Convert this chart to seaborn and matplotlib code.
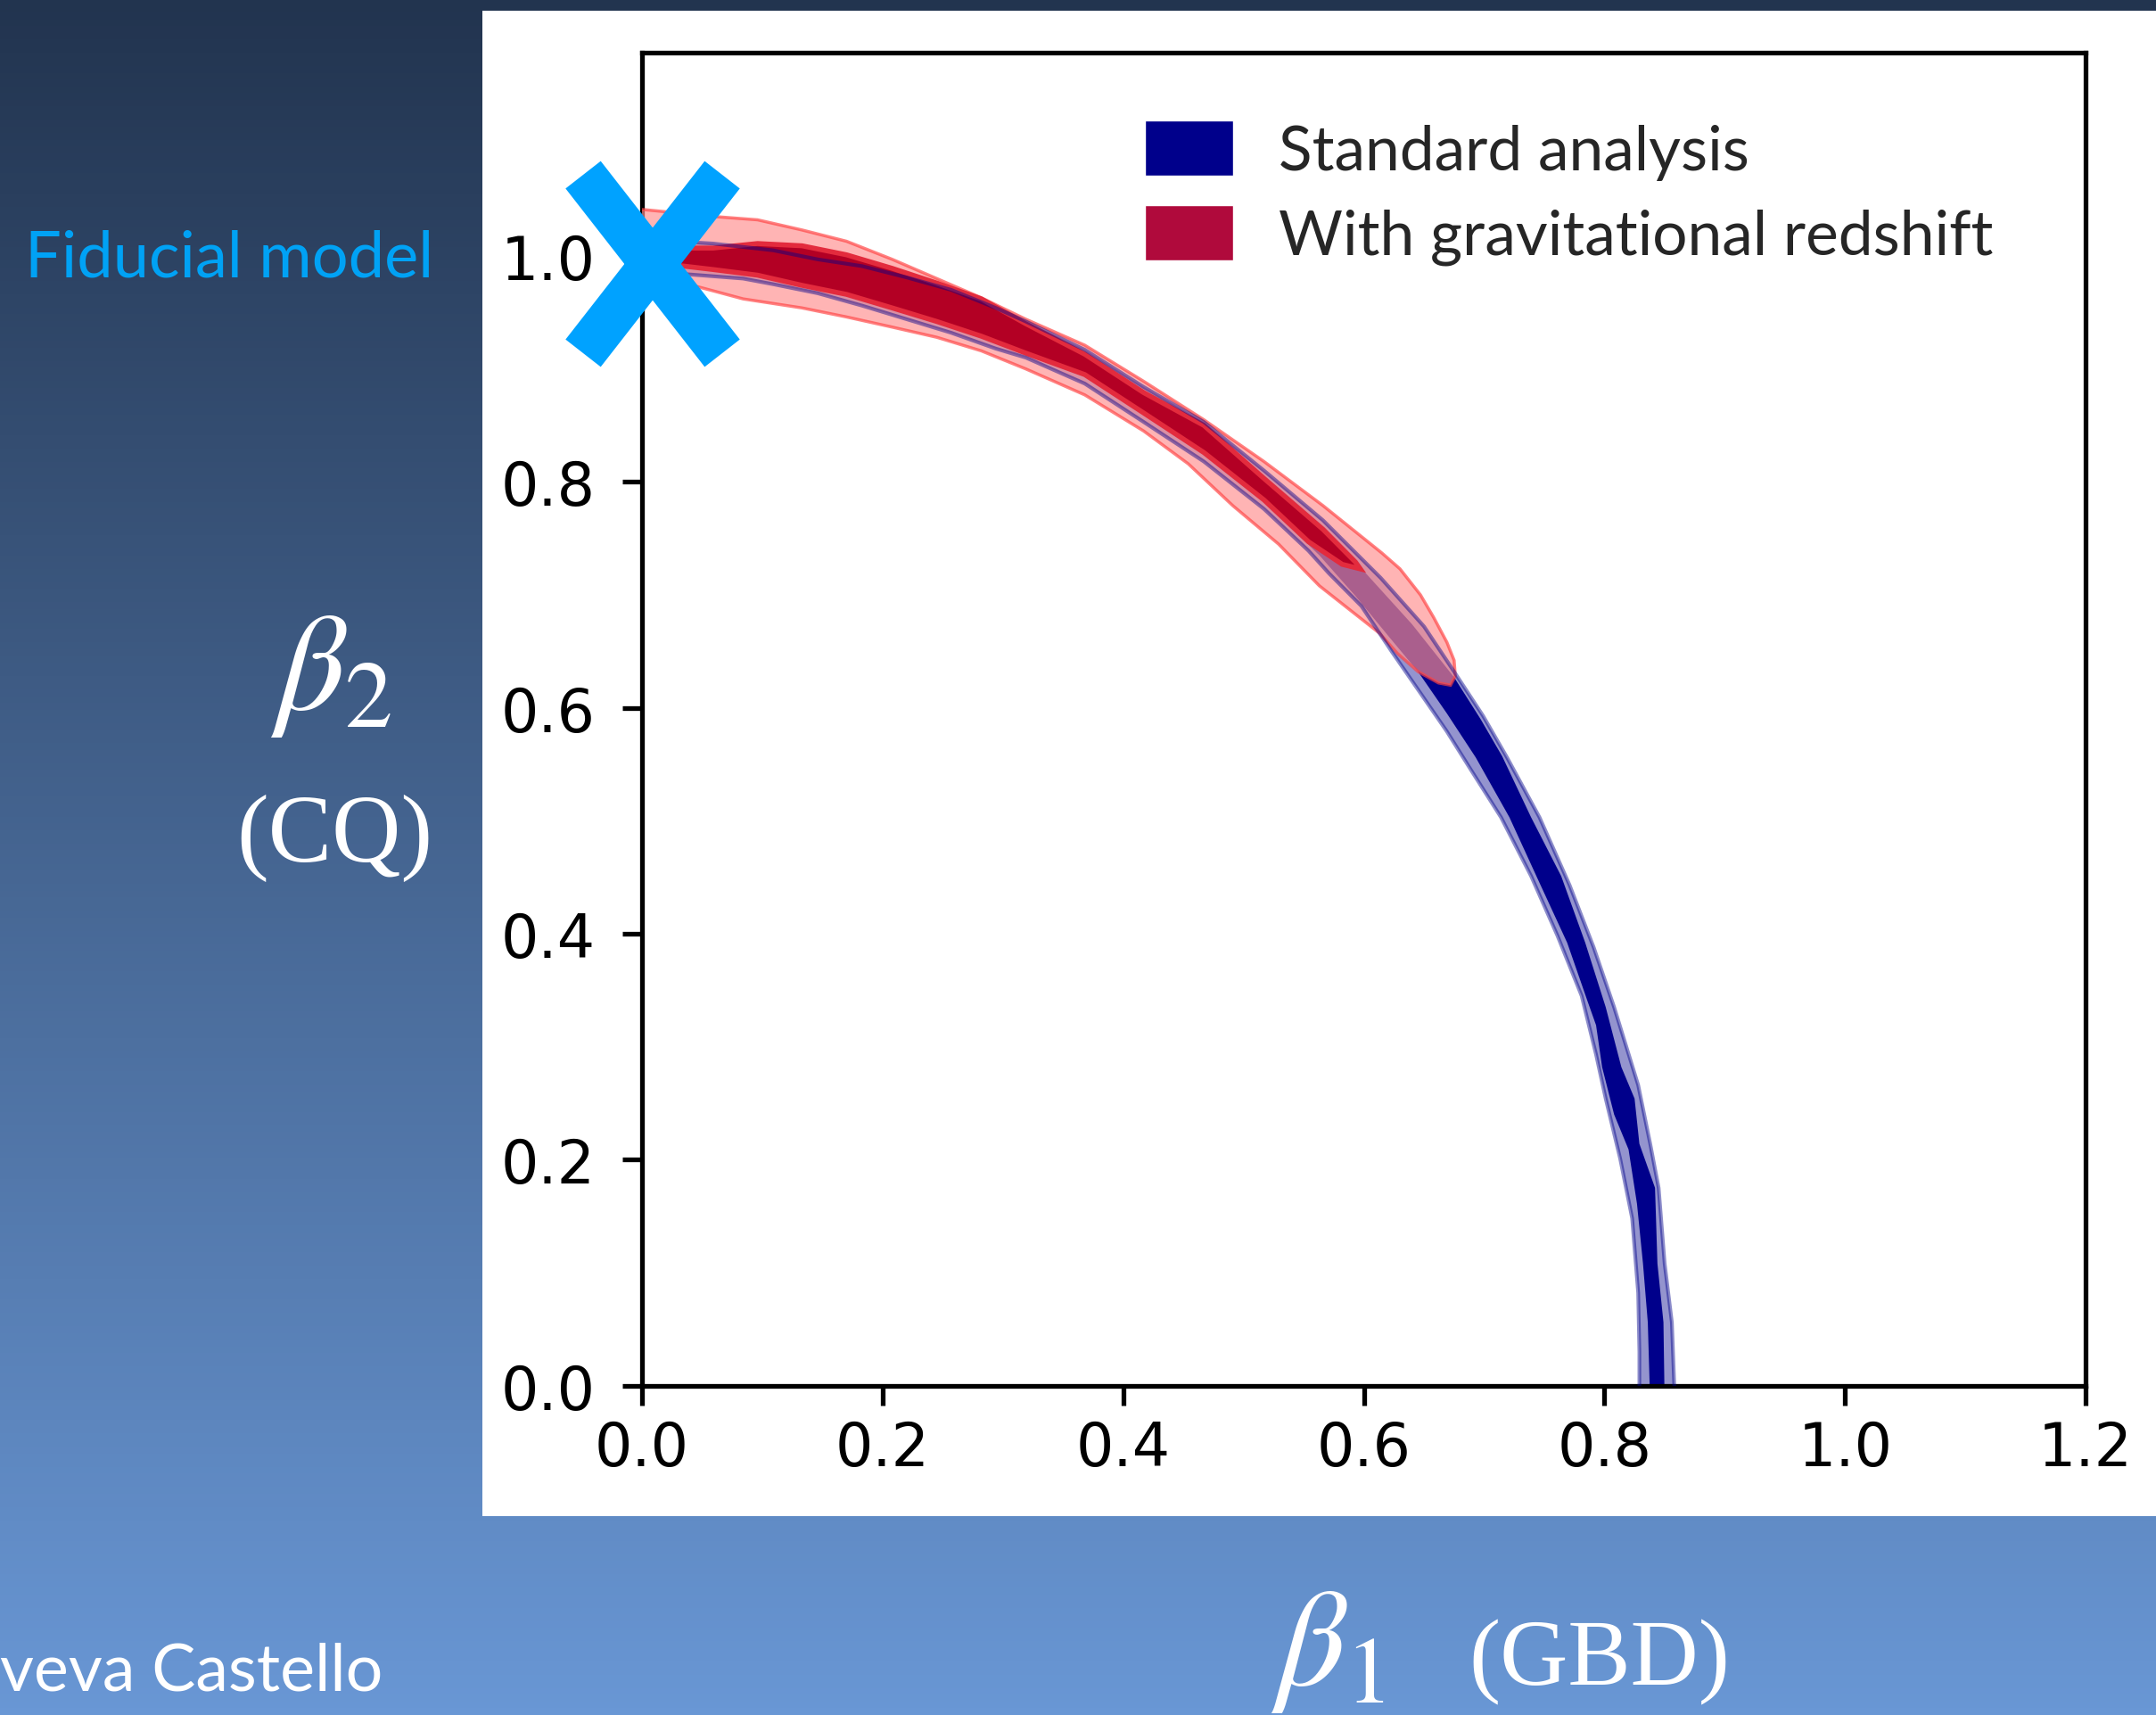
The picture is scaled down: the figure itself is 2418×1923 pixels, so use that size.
import numpy as np
import matplotlib
matplotlib.use('Agg')
import matplotlib.pyplot as plt
from matplotlib.markers import MarkerStyle
from matplotlib.patches import Patch, Rectangle
from matplotlib.transforms import Affine2D
import seaborn as sns

# fiducial model (beta1, beta2)
FIDUCIAL_X = [0.0]
FIDUCIAL_Y = [1.0]

# Standard analysis, 95% region: outer edge, then inner edge back
STD_95_X = [-0.011, 0.027, 0.059, 0.109, 0.146, 0.183, 0.220, 0.257, 0.294, 0.319,
            0.368, 0.417, 0.467, 0.517, 0.566, 0.614, 0.650, 0.675, 0.699, 0.719,
            0.746, 0.771, 0.791, 0.808, 0.828, 0.838, 0.845, 0.850, 0.856, 0.858, 0.859,
            0.829, 0.829, 0.828, 0.823, 0.813, 0.801, 0.793, 0.781, 0.761, 0.739,
            0.714, 0.689, 0.669, 0.647, 0.623, 0.598, 0.571, 0.554, 0.517, 0.467,
            0.417, 0.368, 0.319, 0.294, 0.257, 0.220, 0.183, 0.146, 0.109, 0.084,
            0.035, -0.011]
STD_95_Y = [1.015, 1.013, 1.011, 1.005, 0.997, 0.991, 0.981, 0.970, 0.954, 0.942,
            0.917, 0.884, 0.853, 0.810, 0.766, 0.715, 0.672, 0.632, 0.593, 0.556,
            0.503, 0.443, 0.388, 0.335, 0.266, 0.214, 0.175, 0.108, 0.056, 0.000, -0.016,
            -0.016, 0.030, 0.082, 0.148, 0.201, 0.254, 0.293, 0.345, 0.398, 0.451,
            0.503, 0.545, 0.579, 0.613, 0.650, 0.690, 0.719, 0.739, 0.776, 0.818,
            0.853, 0.887, 0.910, 0.918, 0.932, 0.944, 0.956, 0.967, 0.975, 0.980,
            0.984, 0.987]

# Standard analysis, 68% region
STD_68_X = [-0.011, 0.059, 0.133, 0.208, 0.282, 0.356, 0.430, 0.504, 0.563, 0.600,
            0.640, 0.675, 0.697, 0.715, 0.739, 0.764, 0.784, 0.801, 0.814, 0.825,
            0.829, 0.842, 0.844, 0.849, 0.850,
            0.838, 0.836, 0.832, 0.827, 0.820, 0.808, 0.798, 0.793, 0.786, 0.769,
            0.746, 0.721, 0.693, 0.669, 0.645, 0.620, 0.593, 0.563, 0.504, 0.430,
            0.356, 0.282, 0.208, 0.133, 0.059, -0.011]
STD_68_Y = [1.006, 1.001, 0.989, 0.974, 0.948, 0.914, 0.867, 0.811, 0.756, 0.721,
            0.674, 0.627, 0.590, 0.557, 0.503, 0.451, 0.392, 0.335, 0.282, 0.254,
            0.214, 0.175, 0.108, 0.056, -0.016,
            -0.016, 0.056, 0.108, 0.161, 0.209, 0.240, 0.282, 0.319, 0.340, 0.392,
            0.445, 0.503, 0.556, 0.595, 0.632, 0.664, 0.699, 0.735, 0.796, 0.853,
            0.901, 0.935, 0.961, 0.978, 0.991, 0.996]

# With gravitational redshift, 95% region
GRS_95_X = [-0.011, 0.002, 0.059, 0.096, 0.133, 0.170, 0.208, 0.245, 0.282, 0.319,
            0.368, 0.417, 0.467, 0.517, 0.566, 0.615, 0.630, 0.647, 0.658, 0.669,
            0.675, 0.676, 0.672,
            0.662, 0.645, 0.628, 0.613, 0.588, 0.563, 0.529, 0.491, 0.454, 0.417,
            0.368, 0.319, 0.282, 0.245, 0.208, 0.170, 0.133, 0.084, 0.035, 0.002, -0.011]
GRS_95_Y = [1.042, 1.041, 1.035, 1.032, 1.023, 1.013, 0.997, 0.980, 0.963, 0.944,
            0.921, 0.889, 0.855, 0.818, 0.779, 0.737, 0.723, 0.700, 0.680, 0.658,
            0.642, 0.628, 0.620,
            0.622, 0.632, 0.648, 0.666, 0.687, 0.708, 0.745, 0.779, 0.816, 0.845,
            0.877, 0.900, 0.916, 0.928, 0.937, 0.946, 0.954, 0.962, 0.976, 0.985, 0.989]

# With gravitational redshift, 68% region
GRS_68_X = [-0.011, 0.027, 0.059, 0.096, 0.133, 0.170, 0.208, 0.245, 0.282, 0.319,
            0.368, 0.417, 0.467, 0.517, 0.566, 0.593, 0.597,
            0.582, 0.554, 0.517, 0.467, 0.417, 0.368, 0.319, 0.282, 0.245, 0.208,
            0.170, 0.133, 0.096, 0.059, 0.027, -0.011]
GRS_68_Y = [1.003, 1.007, 1.007, 1.011, 1.009, 1.001, 0.989, 0.976, 0.962, 0.940,
            0.913, 0.879, 0.850, 0.803, 0.758, 0.729, 0.723,
            0.727, 0.747, 0.784, 0.826, 0.861, 0.895, 0.914, 0.929, 0.942, 0.954,
            0.966, 0.974, 0.983, 0.988, 0.992, 0.993]

XTICKS = [0.0, 0.2, 0.4, 0.6, 0.8, 1.0, 1.2]
YTICKS = [0.0, 0.2, 0.4, 0.6, 0.8, 1.0]
LEGEND_LABELS = ['Standard analysis', 'With gravitational redshift']

NAVY = '#00008b'
CRIMSON = '#b00a3c'

sns.set_style('ticks')
plt.rcParams['font.family'] = ['DejaVu Sans']
plt.rcParams['mathtext.fontset'] = 'stix'

fig = plt.figure(figsize=(24.18, 19.24), dpi=100)

# slide background, dark navy to light blue
bg = fig.add_axes([0, 0, 1, 1], zorder=-2)
top = np.array([34, 52, 79]) / 255
bottom = np.array([105, 151, 213]) / 255
t = np.linspace(0, 1, 256)[:, None]
bg.imshow((top + (bottom - top) * t)[:, None, :], aspect='auto', extent=[0, 1, 0, 1])
bg.set_axis_off()

fig.add_artist(Rectangle((0.2237, 0.1159), 0.78, 0.8775, transform=fig.transFigure,
                         facecolor='white', edgecolor='none', zorder=-1))

ax = fig.add_axes([0.2978, 0.1920, 0.6696, 0.7768])
ax.set_facecolor('white')

ax.fill(STD_95_X, STD_95_Y, color=NAVY, alpha=0.42, lw=0, zorder=1)
ax.fill(STD_68_X, STD_68_Y, color=NAVY, lw=0, zorder=2)
ax.fill(GRS_95_X, GRS_95_Y, facecolor='#ff8f8f', edgecolor='#ff4242', lw=2.5,
        alpha=0.67, zorder=3)
ax.fill(GRS_68_X, GRS_68_Y, facecolor='#b30024', edgecolor='#e32b3d', lw=4, zorder=4)
sns.lineplot(x=STD_95_X + STD_95_X[:1], y=STD_95_Y + STD_95_Y[:1], sort=False,
             estimator=None, color=NAVY, alpha=0.45, lw=3, ax=ax, zorder=5)

# hand-drawn looking cross, a bit taller than wide and nudged as on the slide
xmark = MarkerStyle('x', transform=Affine2D().scale(0.9, 1.15).translate(0.07, -0.05))
ax.plot(FIDUCIAL_X, FIDUCIAL_Y, linestyle='none', marker=xmark, ms=125, mew=36,
        color='#00a2ff', clip_on=False, zorder=10)

ax.set_xlim(0, 1.2)
ax.set_ylim(0, 1.18)
ax.set_xticks(XTICKS)
ax.set_yticks(YTICKS)
ax.tick_params(labelsize=48, length=16, width=3.8, color='black', labelcolor='black')
ax.tick_params(axis='x', pad=11)
ax.tick_params(axis='y', pad=22)
for s in ax.spines.values():
    s.set_visible(True)
    s.set_linewidth(3.8)
    s.set_color('black')

handles = [Patch(facecolor=NAVY), Patch(facecolor=CRIMSON)]
ax.legend(handles, LEGEND_LABELS, loc='upper left', bbox_to_anchor=(0.348, 0.949),
          frameon=False, prop={'family': 'Lato', 'size': 50}, handlelength=1.43,
          handleheight=1.0, handletextpad=0.73, labelspacing=0.40,
          borderpad=0, borderaxespad=0)

fig.text(0.2010, 0.8384, 'Fiducial model', family='Lato', fontsize=52,
         color='#00a2f5', ha='right', va='baseline')
fig.text(0.1534, 0.6081, r'$\beta_2$', fontsize=110, color='white', ha='center', va='center')
fig.text(0.1553, 0.5114, '(CQ)', family='Liberation Serif', fontsize=77, color='white',
         ha='center', va='center')
fig.text(0.6158, 0.0182, r'$\beta_1$', fontsize=110, color='white', ha='center', va='baseline')
fig.text(0.7419, 0.0182, '(GBD)', family='Liberation Serif', fontsize=76, color='white',
         ha='center', va='baseline')
fig.text(0.1774, 0.0146, 'veva Castello', family='Lato', fontsize=53, color='white',
         ha='right', va='baseline')

fig.savefig('out.png', dpi=100)
